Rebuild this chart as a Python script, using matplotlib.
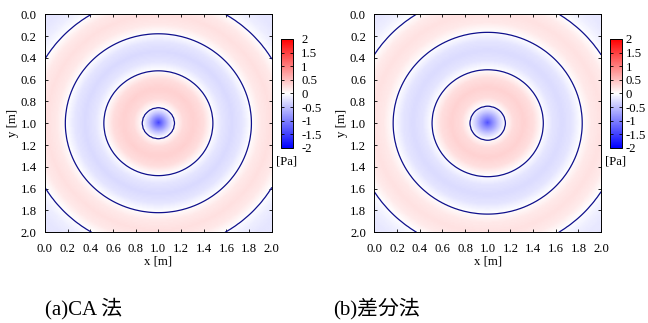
import numpy as np
import matplotlib
matplotlib.use("Agg")
import matplotlib.pyplot as plt
from matplotlib.colors import LinearSegmentedColormap

# radial pressure profiles (distance from source at (1.0, 1.0))
r_ca = [0.0, 0.04, 0.09, 0.14, 0.22, 0.31, 0.40, 0.48, 0.56, 0.65, 0.74, 0.82, 0.90, 0.99, 1.08, 1.16, 1.25, 1.33, 1.42]
p_ca = [-1.45, -1.0, -0.45, 0.0, 0.28, 0.36, 0.26, 0.0, -0.2, -0.29, -0.2, 0.0, 0.17, 0.24, 0.17, 0.0, -0.13, -0.19, -0.2]

r_fd = [0.0, 0.04, 0.10, 0.154, 0.23, 0.32, 0.41, 0.49, 0.57, 0.66, 0.75, 0.833, 0.92, 1.01, 1.10, 1.18, 1.27, 1.35, 1.42]
p_fd = [-1.35, -0.95, -0.42, 0.0, 0.27, 0.35, 0.25, 0.0, -0.2, -0.28, -0.2, 0.0, 0.17, 0.23, 0.16, 0.0, -0.12, -0.18, -0.19]

cbar_ticks = [2, 1.5, 1, 0.5, 0, -0.5, -1, -1.5, -2]
cbar_labels = ["2", "1.5", "1", "0.5", "0", "-0.5", "-1", "-1.5", "-2"]
axis_ticks = [0.0, 0.2, 0.4, 0.6, 0.8, 1.0, 1.2, 1.4, 1.6, 1.8, 2.0]
captions = ["(a)CA 法", "(b)差分法"]

SERIF = ["Liberation Serif", "DejaVu Serif"]
CJK = ["Liberation Serif", "Noto Sans CJK JP", "DejaVu Sans"]
FS = 9.2

cmap = LinearSegmentedColormap.from_list("bwr_gp", ["#0000ff", "#ffffff", "#ff0000"])

n = 161
xs = np.linspace(0.0, 2.0, n)
X, Y = np.meshgrid(xs, xs)
R = np.hypot(X - 1.0, Y - 1.0)

fig = plt.figure(figsize=(6.48, 3.23), dpi=100)

# (profile r, profile p, axes left, colorbar left, colorbar label pad, caption, caption x)
panels = [
    (r_ca, p_ca, 0.0694, 0.4336, 6, captions[0], 45 / 648),
    (r_fd, p_fd, 0.5776, 0.9414, 2.5, captions[1], 333 / 648),
]

for rr, pp, left, cleft, cpad, cap, capx in panels:
    field = np.interp(R, rr, pp)
    ax = fig.add_axes([left, 0.281, 0.350, 0.675])
    im = ax.imshow(field, extent=[0, 2, 2, 0], cmap=cmap, vmin=-2, vmax=2,
                   interpolation="bilinear", aspect="auto")
    ax.contour(xs, xs, field, levels=[0.0], colors="#10108c", linewidths=0.9)
    ax.set_xlim(0, 2)
    ax.set_ylim(2, 0)
    ax.set_xticks(axis_ticks)
    ax.set_yticks(axis_ticks)
    ax.set_xticklabels([f"{t:.1f}" for t in axis_ticks], family=SERIF, fontsize=FS)
    ax.set_yticklabels([f"{t:.1f}" for t in axis_ticks], family=SERIF, fontsize=FS)
    ax.tick_params(direction="in", length=2.5, width=0.6, top=True, right=True)
    ax.tick_params(axis="x", pad=8)
    ax.tick_params(axis="y", pad=6)
    ax.set_xlabel("x [m]", family=SERIF, fontsize=FS, labelpad=0)
    ax.set_ylabel("y [m]", family=SERIF, fontsize=FS, labelpad=1)
    for s in ax.spines.values():
        s.set_linewidth(0.7)

    cax = fig.add_axes([cleft, 0.5418, 0.0185, 0.3375])
    cb = fig.colorbar(im, cax=cax, ticks=cbar_ticks)
    cb.ax.set_yticklabels(cbar_labels, family=SERIF, fontsize=FS)
    cb.ax.tick_params(direction="in", length=2.5, width=0.6, left=True, right=True, pad=cpad)
    cb.outline.set_linewidth(0.7)
    fig.text(cleft + 0.009, 0.52, "[Pa]", family=SERIF, fontsize=FS,
             ha="center", va="top")

    fig.text(capx, 0.025, cap, family=CJK, fontsize=15, ha="left", va="baseline")

fig.savefig("out.png", dpi=100)
